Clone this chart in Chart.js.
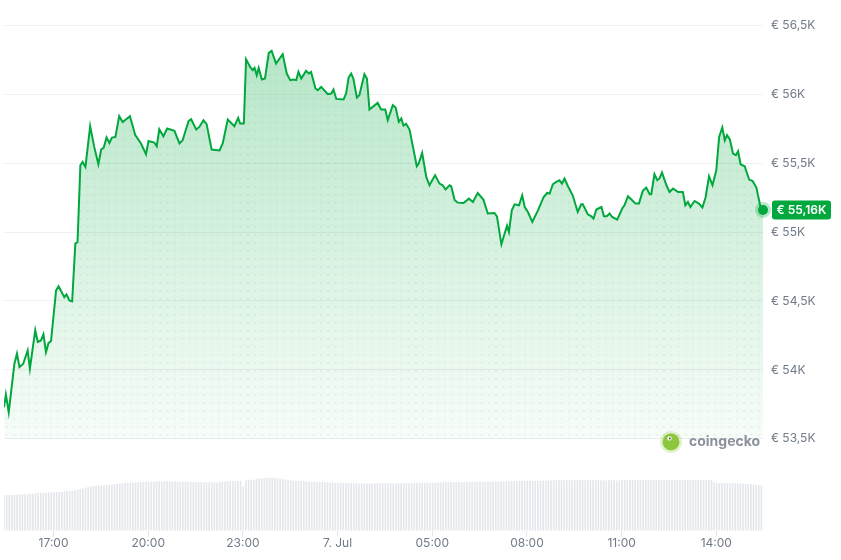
<!DOCTYPE html>
<html><head><meta charset="utf-8">
<script src="https://cdn.jsdelivr.net/npm/chart.js@4.4.1/dist/chart.umd.min.js"></script>
<style>html,body{margin:0;padding:0;background:#fff}#wrap{width:841px;height:560px;position:relative}</style>
</head><body><div id="wrap"><canvas id="c"></canvas></div>
<script>
// time in hours from 6 Jul 00:00 (display grid), price in EUR
const times=[15.43,15.49,15.58,15.76,15.84,15.92,16.04,16.18,16.25,16.42,16.50,16.60,16.68,16.76,16.84,16.92,17.08,17.16,17.34,17.41,17.50,17.59,17.69,17.76,17.85,17.92,18.01,18.16,18.29,18.42,18.51,18.59,18.68,18.77,18.85,18.96,19.08,19.19,19.42,19.59,19.77,19.93,20.01,20.19,20.27,20.35,20.48,20.60,20.83,20.99,21.09,21.28,21.36,21.52,21.62,21.75,21.85,22.01,22.26,22.36,22.52,22.73,22.85,22.91,23.03,23.10,23.23,23.31,23.37,23.44,23.50,23.60,23.70,23.82,23.91,24.05,24.26,24.39,24.50,24.60,24.69,24.76,24.85,25.00,25.09,25.16,25.30,25.37,25.48,25.69,25.80,25.87,25.96,26.19,26.27,26.35,26.43,26.50,26.61,26.69,26.85,26.93,27.01,27.27,27.38,27.51,27.59,27.75,27.84,27.94,28.02,28.09,28.17,28.28,28.51,28.57,28.68,28.81,28.91,29.09,29.23,29.33,29.42,29.55,29.60,29.71,29.81,29.99,30.16,30.29,30.44,30.62,30.76,30.97,31.05,31.19,31.29,31.37,31.43,31.52,31.61,31.75,31.85,31.93,32.03,32.17,32.35,32.53,32.64,32.72,32.82,32.93,33.03,33.11,33.19,33.30,33.45,33.61,33.72,33.77,33.93,34.04,34.11,34.20,34.36,34.44,34.53,34.62,34.70,34.86,35.02,35.09,35.20,35.31,35.44,35.55,35.67,35.78,35.89,35.94,36.04,36.13,36.20,36.28,36.42,36.52,36.63,36.79,36.94,37.02,37.10,37.18,37.31,37.45,37.56,37.66,37.77,37.88,38.00,38.09,38.19,38.27,38.34,38.43,38.53,38.62,38.69,38.77,38.90,39.04,39.15,39.27,39.40,39.48];
const prices=[53730,53822,53694,54045,54118,54020,54045,54141,54009,54287,54202,54214,54258,54129,54194,54209,54577,54606,54528,54548,54504,54497,54916,54927,55484,55508,55472,55767,55617,55491,55598,55612,55685,55646,55685,55689,55840,55798,55840,55702,55642,55564,55660,55649,55622,55745,55694,55750,55733,55642,55665,55806,55818,55743,55762,55811,55782,55598,55591,55642,55816,55767,55827,55787,55787,56253,56197,56173,56190,56137,56190,56106,56113,56299,56313,56222,56290,56149,56101,56106,56101,56161,56113,56168,56149,56161,56041,56028,56052,55999,56004,56033,55965,55961,56004,56120,56149,56113,55975,55992,56144,56113,55888,55936,55888,55888,55811,55919,55903,55798,55823,55771,55785,55743,55477,55496,55573,55399,55339,55411,55351,55339,55308,55339,55332,55230,55213,55210,55242,55218,55283,55235,55134,55138,55114,54911,54988,55046,55000,55157,55201,55194,55266,55181,55145,55073,55157,55254,55283,55279,55346,55363,55375,55351,55388,55332,55266,55145,55201,55201,55128,55114,55097,55163,55181,55114,55114,55134,55109,55090,55170,55194,55259,55235,55206,55206,55298,55322,55274,55274,55419,55375,55388,55431,55339,55290,55315,55290,55290,55194,55218,55181,55225,55206,55177,55250,55404,55339,55448,55689,55758,55665,55702,55671,55569,55557,55586,55491,55477,55380,55370,55322,55181,55160];
// 24h volume, billion EUR, one bar per 5 minutes starting at volStart
const volStart=15.43;
const volStepMin=5;
const volumes=[
17.5,17.6,17.6,17.7,17.8,17.8,17.9,18.0,18.0,18.1,18.2,18.3,
18.5,18.6,18.6,18.7,18.8,18.9,19.0,19.0,19.1,19.2,19.3,19.4,
19.6,19.7,19.8,20.0,20.3,20.6,21.0,21.3,21.6,21.9,22.1,22.2,
22.3,22.4,22.5,22.6,22.8,22.9,23.1,23.3,23.4,23.5,23.6,23.7,
23.8,23.9,24.0,24.0,24.1,24.1,24.2,24.2,24.3,24.3,24.4,24.4,
24.4,24.5,24.5,24.4,24.5,24.4,24.3,24.4,24.3,24.2,24.3,24.2,
24.1,24.1,24.0,24.1,24.0,23.9,24.0,24.0,23.9,23.8,24.0,24.2,
24.4,24.5,24.5,24.6,24.5,24.6,24.6,22.0,25.0,25.1,25.2,25.2,
25.6,25.9,26.0,26.1,26.1,26.2,26.1,26.2,26.0,25.8,25.5,25.3,
25.2,25.0,24.9,24.8,24.7,24.6,24.5,24.4,24.3,24.3,24.2,24.2,
24.1,24.1,24.0,24.0,23.9,23.9,23.8,23.8,23.8,23.7,23.7,23.6,
23.6,23.5,23.5,23.4,23.4,23.4,23.3,23.3,23.4,23.4,23.5,23.5,
23.5,23.6,23.5,23.5,23.4,23.5,23.5,23.6,23.5,23.5,23.6,23.6,
23.6,23.7,23.7,23.7,23.8,23.8,23.8,23.9,23.8,23.9,23.9,24.0,
24.0,24.0,24.1,24.0,24.1,24.1,24.0,24.1,24.2,24.1,24.2,24.2,
24.2,24.3,24.2,24.3,24.3,24.4,24.3,24.4,24.4,24.5,24.4,24.5,
24.5,24.6,24.5,24.6,24.6,24.7,24.6,24.7,24.8,24.7,24.8,24.8,
24.9,24.8,24.9,25.0,24.9,25.0,25.0,25.1,25.0,25.0,25.1,25.0,
25.0,25.1,25.0,25.1,25.1,25.0,25.1,25.2,25.1,25.0,25.1,25.0,
25.0,24.9,25.0,25.1,25.0,24.9,25.0,25.1,25.1,25.0,25.1,25.2,
25.1,25.0,25.1,25.0,25.2,25.1,25.0,25.1,25.1,25.0,25.1,25.0,
25.1,25.0,25.1,25.2,25.1,25.0,25.1,25.2,25.1,25.0,25.1,25.1,
25.1,25.2,25.1,25.0,25.1,25.2,24.0,23.7,23.6,23.6,23.5,23.6,
23.5,23.6,23.5,23.4,23.4,23.3,23.2,23.1,23.0,22.9,22.8,22.6,
22.5];
const xTickValues=[17,20,23,26,29,32,35,38];
const xTickLabels=['17:00','20:00','23:00','7. Jul','05:00','08:00','11:00','14:00'];
const yTickValues=[53500,54000,54500,55000,55500,56000,56500];
const fillBase=53500;
const watermark='coingecko';

const GREEN='#00a83e';
const AXIS_TXT='#707a89';
const priceData=times.map((t,i)=>({x:t,y:prices[i]}));
const volData=volumes.map((v,i)=>({x:volStart+i*volStepMin/60,y:v}));
const fmtK=v=>'€ '+(v/1000).toString().replace('.',',')+'K';

const decor={
  id:'decor',
  beforeDatasetDraw(chart,args){
    if(args.index!==0)return;
    const meta=chart.getDatasetMeta(0),ys=chart.scales.y,ctx=chart.ctx;
    const base=ys.getPixelForValue(fillBase);
    const pts=meta.data,first=pts[0],last=pts[pts.length-1];
    ctx.save();ctx.beginPath();
    pts.forEach((p,i)=>i?ctx.lineTo(p.x,p.y):ctx.moveTo(p.x,p.y));
    ctx.lineTo(last.x,base);ctx.lineTo(first.x,base);ctx.closePath();ctx.clip();
    ctx.fillStyle='rgba(0,130,50,0.07)';
    for(let y=base-4;y>0;y-=8){for(let x=chart.chartArea.left+3;x<last.x;x+=7.3){ctx.beginPath();ctx.arc(x,y,1.1,0,Math.PI*2);ctx.fill();}}
    ctx.restore();
  },
  afterDatasetsDraw(chart){
    const ctx=chart.ctx,meta=chart.getDatasetMeta(0),last=meta.data[meta.data.length-1];
    const ca=chart.chartArea;
    ctx.save();
    ctx.fillStyle='rgba(0,168,62,0.28)';ctx.beginPath();ctx.arc(last.x,last.y,8,0,Math.PI*2);ctx.fill();
    ctx.fillStyle=GREEN;ctx.beginPath();ctx.arc(last.x,last.y,5,0,Math.PI*2);ctx.fill();
    // badge
    const bx=ca.right+9,bw=59,bh=19,by=last.y-bh/2;
    ctx.beginPath();ctx.roundRect(bx,by,bw,bh,3);ctx.fillStyle=GREEN;ctx.fill();
    ctx.fillStyle='#fff';ctx.font='600 12px Inter';ctx.textAlign='center';ctx.textBaseline='middle';
    ctx.fillText(fmtK(Math.round(prices[prices.length-1]/10)*10),bx+bw/2,last.y+0.5);
    // watermark
    const ly=chart.scales.y.getPixelForValue(fillBase)+3,cx=ca.right-92;
    ctx.fillStyle='rgba(141,198,63,0.25)';ctx.beginPath();ctx.arc(cx,ly,11,0,Math.PI*2);ctx.fill();
    ctx.fillStyle='#8dc63f';ctx.beginPath();ctx.arc(cx,ly,8.5,0,Math.PI*2);ctx.fill();
    ctx.fillStyle='#fff';ctx.beginPath();ctx.arc(cx-1.5,ly-3.5,2.2,0,Math.PI*2);ctx.fill();
    ctx.fillStyle='#4a4a4a';ctx.beginPath();ctx.arc(cx-1.2,ly-3.5,1,0,Math.PI*2);ctx.fill();
    ctx.fillStyle='#8a919d';ctx.font='bold 14px Inter';ctx.textAlign='left';ctx.textBaseline='middle';
    ctx.fillText(watermark,ca.right-74,ly);
    ctx.restore();
  }
};

new Chart(document.getElementById('c'),{
  data:{datasets:[
    {type:'line',data:priceData,borderColor:GREEN,borderWidth:2,pointRadius:0,tension:0,yAxisID:'y',order:1,
     fill:{value:fillBase},
     backgroundColor:(c)=>{const ch=c.chart;if(!ch.chartArea)return 'rgba(0,168,62,0.15)';
       const ys=ch.scales.y;const g=ch.ctx.createLinearGradient(0,ys.getPixelForValue(56500),0,ys.getPixelForValue(fillBase));
       g.addColorStop(0,'rgba(0,168,62,0.30)');g.addColorStop(1,'rgba(0,168,62,0.03)');return g;}},
    {type:'bar',data:volData,backgroundColor:'#e4e7ec',barThickness:1,yAxisID:'yv',order:2}
  ]},
  options:{
    responsive:true,maintainAspectRatio:false,animation:false,
    layout:{padding:{left:4,top:7,right:0,bottom:9}},
    plugins:{legend:{display:false},tooltip:{enabled:false}},
    scales:{
      x:{type:'linear',min:15.43,max:39.48,offset:false,
        afterBuildTicks:s=>{s.ticks=xTickValues.map(v=>({value:v}));},
        ticks:{autoSkip:false,maxRotation:0,padding:0,color:AXIS_TXT,font:{family:'Inter',size:12},
          callback:(v)=>xTickLabels[xTickValues.indexOf(v)]},
        grid:{drawOnChartArea:false,drawTicks:true,tickLength:6,color:'#e3e6ea',offset:false},
        border:{display:false}},
      y:{position:'right',min:52835,max:56572,
        afterBuildTicks:s=>{s.ticks=yTickValues.map(v=>({value:v}));},
        afterFit:s=>{s.width=78;},
        ticks:{padding:8,color:AXIS_TXT,font:{family:'Inter',size:12},callback:v=>fmtK(v)},
        grid:{color:'#eef0f3',drawTicks:false},border:{display:false}},
      yv:{display:false,min:0,max:257.5}
    }
  },
  plugins:[decor]
});
</script></body></html>
